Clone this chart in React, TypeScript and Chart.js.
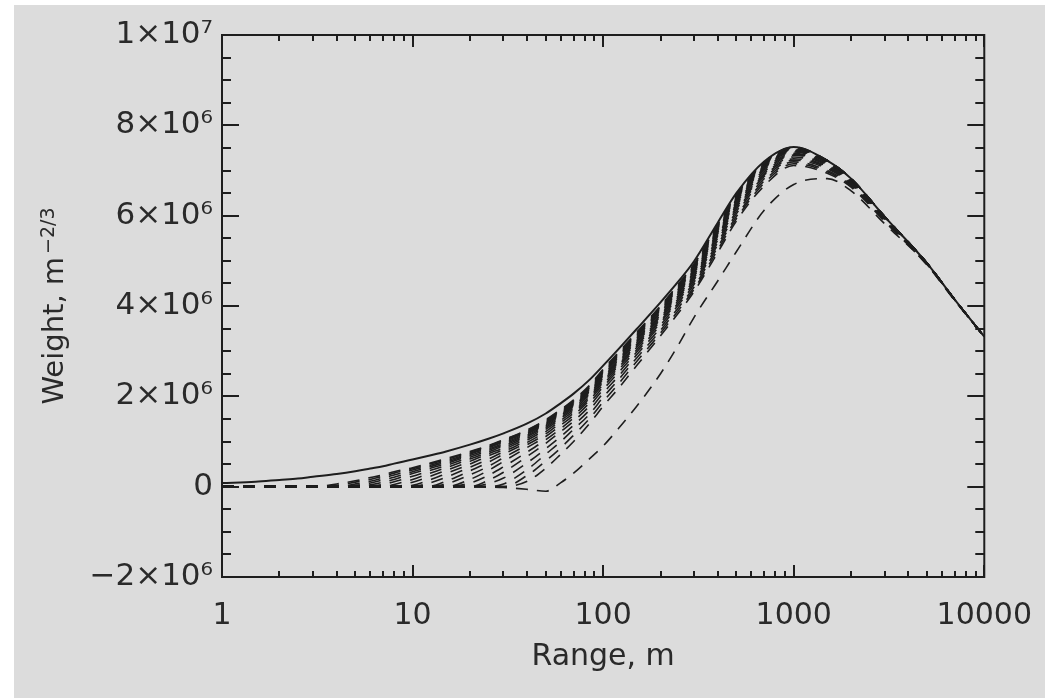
import React, { useEffect, useRef } from "react";
import { Chart, registerables } from "chart.js";

Chart.register(...registerables);

// Range grid (m)
const RANGE_M = [1, 1.5, 2, 2.5, 3, 4, 5, 6, 7, 8, 10, 12, 15, 20, 25, 30, 40, 50, 60, 70, 85, 100, 120, 150, 200, 250, 300, 400, 500, 700, 1000, 1500, 2000, 3000, 5000, 7000, 10000];

// Weights in units of 10^6 m^-2/3
const WEIGHT_FULL = [0.08, 0.11, 0.15, 0.18, 0.22, 0.28, 0.34, 0.40, 0.45, 0.51, 0.60, 0.68, 0.78, 0.93, 1.06, 1.18, 1.40, 1.62, 1.85, 2.06, 2.37, 2.68, 3.04, 3.49, 4.08, 4.56, 4.99, 5.85, 6.50, 7.20, 7.52, 7.22, 6.82, 5.98, 4.95, 4.14, 3.32];

const WEIGHT_CUT_3 = [0, 0, 0, 0, 0, 0.06, 0.13, 0.20, 0.26, 0.33, 0.42, 0.51, 0.62, 0.78, 0.91, 1.04, 1.26, 1.48, 1.71, 1.92, 2.25, 2.60, 2.97, 3.42, 4.00, 4.50, 4.93, 5.81, 6.46, 7.18, 7.52, 7.22, 6.82, 5.98, 4.95, 4.14, 3.32];
const WEIGHT_CUT_3_5 = [0, 0, 0, 0, 0, 0.03, 0.10, 0.16, 0.23, 0.30, 0.40, 0.49, 0.60, 0.76, 0.90, 1.03, 1.25, 1.47, 1.70, 1.90, 2.23, 2.58, 2.95, 3.40, 3.99, 4.49, 4.92, 5.80, 6.45, 7.17, 7.51, 7.22, 6.82, 5.98, 4.95, 4.14, 3.32];
const WEIGHT_CUT_4 = [0, 0, 0, 0, 0, 0, 0.06, 0.12, 0.19, 0.26, 0.37, 0.46, 0.57, 0.74, 0.88, 1.01, 1.23, 1.45, 1.68, 1.88, 2.21, 2.56, 2.93, 3.38, 3.97, 4.47, 4.90, 5.78, 6.44, 7.16, 7.50, 7.22, 6.82, 5.98, 4.95, 4.14, 3.32];
const WEIGHT_CUT_4_6 = [0, 0, 0, 0, 0, 0, 0.03, 0.08, 0.15, 0.21, 0.33, 0.43, 0.54, 0.72, 0.86, 0.99, 1.21, 1.43, 1.66, 1.86, 2.19, 2.54, 2.91, 3.36, 3.95, 4.45, 4.89, 5.76, 6.42, 7.15, 7.49, 7.22, 6.82, 5.98, 4.95, 4.14, 3.32];
const WEIGHT_CUT_5 = [0, 0, 0, 0, 0, 0, 0, 0.04, 0.10, 0.16, 0.29, 0.39, 0.51, 0.69, 0.83, 0.96, 1.19, 1.41, 1.64, 1.84, 2.17, 2.52, 2.89, 3.34, 3.93, 4.42, 4.87, 5.74, 6.40, 7.14, 7.48, 7.22, 6.82, 5.98, 4.95, 4.14, 3.32];
const WEIGHT_CUT_6 = [0, 0, 0, 0, 0, 0, 0, 0.02, 0.05, 0.11, 0.23, 0.34, 0.47, 0.65, 0.80, 0.93, 1.17, 1.39, 1.62, 1.82, 2.15, 2.50, 2.86, 3.31, 3.91, 4.40, 4.84, 5.72, 6.38, 7.12, 7.47, 7.21, 6.82, 5.98, 4.95, 4.14, 3.32];
const WEIGHT_CUT_7 = [0, 0, 0, 0, 0, 0, 0, 0, 0, 0.05, 0.16, 0.28, 0.42, 0.61, 0.77, 0.90, 1.14, 1.37, 1.60, 1.80, 2.12, 2.47, 2.83, 3.28, 3.88, 4.38, 4.81, 5.70, 6.36, 7.10, 7.46, 7.20, 6.82, 5.98, 4.95, 4.14, 3.32];
const WEIGHT_CUT_8 = [0, 0, 0, 0, 0, 0, 0, 0, 0, 0, 0.10, 0.21, 0.36, 0.56, 0.73, 0.86, 1.11, 1.34, 1.57, 1.78, 2.10, 2.44, 2.80, 3.25, 3.85, 4.35, 4.79, 5.67, 6.34, 7.08, 7.45, 7.19, 6.81, 5.98, 4.95, 4.14, 3.32];
const WEIGHT_CUT_9 = [0, 0, 0, 0, 0, 0, 0, 0, 0, 0, 0.03, 0.13, 0.29, 0.50, 0.68, 0.82, 1.07, 1.31, 1.54, 1.75, 2.07, 2.41, 2.77, 3.22, 3.81, 4.32, 4.76, 5.64, 6.31, 7.06, 7.43, 7.18, 6.80, 5.98, 4.95, 4.14, 3.32];
const WEIGHT_CUT_11 = [0, 0, 0, 0, 0, 0, 0, 0, 0, 0, 0, 0.07, 0.21, 0.43, 0.61, 0.77, 1.03, 1.27, 1.51, 1.71, 2.04, 2.38, 2.74, 3.19, 3.78, 4.29, 4.73, 5.61, 6.28, 7.04, 7.41, 7.17, 6.79, 5.98, 4.95, 4.14, 3.32];
const WEIGHT_CUT_12 = [0, 0, 0, 0, 0, 0, 0, 0, 0, 0, 0, 0, 0.12, 0.35, 0.54, 0.72, 0.98, 1.22, 1.47, 1.67, 2.00, 2.35, 2.70, 3.15, 3.75, 4.25, 4.69, 5.58, 6.25, 7.01, 7.38, 7.15, 6.78, 5.97, 4.95, 4.14, 3.32];
const WEIGHT_CUT_14 = [0, 0, 0, 0, 0, 0, 0, 0, 0, 0, 0, 0, 0.06, 0.26, 0.45, 0.64, 0.93, 1.17, 1.42, 1.63, 1.96, 2.31, 2.67, 3.12, 3.71, 4.22, 4.66, 5.55, 6.22, 6.97, 7.36, 7.13, 6.77, 5.96, 4.95, 4.14, 3.32];
const WEIGHT_CUT_16 = [0, 0, 0, 0, 0, 0, 0, 0, 0, 0, 0, 0, 0, 0.16, 0.36, 0.56, 0.87, 1.11, 1.36, 1.58, 1.92, 2.26, 2.63, 3.08, 3.67, 4.18, 4.62, 5.51, 6.18, 6.93, 7.34, 7.11, 6.75, 5.95, 4.95, 4.14, 3.32];
const WEIGHT_CUT_18 = [0, 0, 0, 0, 0, 0, 0, 0, 0, 0, 0, 0, 0, 0.08, 0.25, 0.44, 0.77, 1.04, 1.29, 1.52, 1.86, 2.21, 2.58, 3.03, 3.63, 4.14, 4.58, 5.46, 6.14, 6.90, 7.30, 7.09, 6.74, 5.94, 4.95, 4.14, 3.32];
const WEIGHT_CUT_21 = [0, 0, 0, 0, 0, 0, 0, 0, 0, 0, 0, 0, 0, 0, 0.14, 0.32, 0.67, 0.96, 1.22, 1.45, 1.79, 2.15, 2.52, 2.98, 3.58, 4.09, 4.53, 5.41, 6.09, 6.87, 7.26, 7.07, 6.72, 5.93, 4.94, 4.14, 3.32];
const WEIGHT_CUT_24 = [0, 0, 0, 0, 0, 0, 0, 0, 0, 0, 0, 0, 0, 0, 0.07, 0.19, 0.53, 0.84, 1.11, 1.36, 1.70, 2.07, 2.44, 2.92, 3.52, 4.04, 4.48, 5.36, 6.04, 6.82, 7.23, 7.04, 6.70, 5.92, 4.94, 4.14, 3.32];
const WEIGHT_CUT_28 = [0, 0, 0, 0, 0, 0, 0, 0, 0, 0, 0, 0, 0, 0, 0, 0.06, 0.38, 0.72, 1.00, 1.27, 1.61, 1.98, 2.36, 2.85, 3.46, 3.98, 4.42, 5.31, 5.98, 6.77, 7.19, 7.00, 6.68, 5.90, 4.93, 4.14, 3.32];
const WEIGHT_CUT_32 = [0, 0, 0, 0, 0, 0, 0, 0, 0, 0, 0, 0, 0, 0, 0, 0, 0.25, 0.57, 0.86, 1.14, 1.51, 1.88, 2.27, 2.77, 3.40, 3.92, 4.37, 5.25, 5.93, 6.72, 7.15, 6.97, 6.66, 5.89, 4.92, 4.13, 3.32];
const WEIGHT_CUT_36 = [0, 0, 0, 0, 0, 0, 0, 0, 0, 0, 0, 0, 0, 0, 0, 0, 0.12, 0.41, 0.72, 1.00, 1.40, 1.78, 2.17, 2.68, 3.34, 3.86, 4.32, 5.19, 5.88, 6.66, 7.11, 6.94, 6.63, 5.87, 4.91, 4.12, 3.32];
const WEIGHT_CUT_48 = [0, 0, 0, 0, 0, 0, 0, 0, 0, 0, 0, 0, 0, 0, -0.01, -0.02, -0.06, -0.10, 0.09, 0.30, 0.62, 0.90, 1.28, 1.78, 2.50, 3.16, 3.75, 4.56, 5.20, 6.12, 6.69, 6.82, 6.55, 5.82, 4.92, 4.14, 3.32];

const DASHED_SERIES = [
  WEIGHT_CUT_3, WEIGHT_CUT_3_5, WEIGHT_CUT_4, WEIGHT_CUT_4_6, WEIGHT_CUT_5, WEIGHT_CUT_6, WEIGHT_CUT_7,
  WEIGHT_CUT_8, WEIGHT_CUT_9, WEIGHT_CUT_11, WEIGHT_CUT_12, WEIGHT_CUT_14, WEIGHT_CUT_16, WEIGHT_CUT_18,
  WEIGHT_CUT_21, WEIGHT_CUT_24, WEIGHT_CUT_28, WEIGHT_CUT_32, WEIGHT_CUT_36, WEIGHT_CUT_48,
];

const X_TICK_VALUES = [1, 10, 100, 1000, 10000];
const X_TICK_LABELS = ["1", "10", "100", "1000", "10000"];
const Y_TICK_VALUES = [-2, 0, 2, 4, 6, 8, 10];
const Y_TICK_LABELS = ["\u22122\u00d710\u2076", "0", "2\u00d710\u2076", "4\u00d710\u2076", "6\u00d710\u2076", "8\u00d710\u2076", "1\u00d710\u2077"];
const X_TITLE = "Range, m";
const Y_TITLE = "Weight, m";
const Y_TITLE_SUP = "\u22122/3";

const FONT = '"DejaVu Sans", sans-serif';
const INK = "#1e1e1e";
const TEXT = "#2a2a2a";

const framePlugin = {
  id: "idlFrame",
  afterDatasetsDraw(chart: any) {
    const { ctx, chartArea: a, scales } = chart;
    const xs = scales.x;
    const ys = scales.y;
    ctx.save();
    ctx.strokeStyle = INK;
    ctx.lineWidth = 2;
    ctx.setLineDash([]);
    ctx.strokeRect(a.left, a.top, a.right - a.left, a.bottom - a.top);
    ctx.beginPath();
    for (let d = 1; d < 10000; d *= 10) {
      for (let m = 1; m <= 10; m++) {
        const px = Math.round(xs.getPixelForValue(d * m));
        const len = m === 1 || m === 10 ? 12 : 6;
        ctx.moveTo(px, a.bottom);
        ctx.lineTo(px, a.bottom - len);
        ctx.moveTo(px, a.top);
        ctx.lineTo(px, a.top + len);
      }
    }
    for (let v = -2; v <= 10.001; v += 0.5) {
      const py = Math.round(ys.getPixelForValue(v));
      const major = Math.abs(v % 2) < 1e-6;
      const len = major ? 17 : 9;
      ctx.moveTo(a.left, py);
      ctx.lineTo(a.left + len, py);
      ctx.moveTo(a.right, py);
      ctx.lineTo(a.right - len, py);
    }
    ctx.stroke();
    ctx.restore();
  },
  afterDraw(chart: any) {
    const { ctx, chartArea: a } = chart;
    ctx.save();
    const cy = (a.top + a.bottom) / 2;
    ctx.translate(49, cy);
    ctx.rotate(-Math.PI / 2);
    ctx.fillStyle = TEXT;
    ctx.textAlign = "left";
    ctx.textBaseline = "alphabetic";
    ctx.font = `29px ${FONT}`;
    const w1 = ctx.measureText(Y_TITLE).width;
    ctx.font = `19px ${FONT}`;
    const w2 = ctx.measureText(Y_TITLE_SUP).width;
    const start = -(w1 + 3 + w2) / 2;
    ctx.font = `29px ${FONT}`;
    ctx.fillText(Y_TITLE, start, 0);
    ctx.font = `19px ${FONT}`;
    ctx.fillText(Y_TITLE_SUP, start + w1 + 3, -9);
    ctx.restore();
  },
};

export default function App() {
  const ref = useRef<HTMLCanvasElement>(null);
  useEffect(() => {
    document.body.style.margin = "0";
    const datasets: any[] = DASHED_SERIES.map((vals) => ({
      data: RANGE_M.map((r, i) => ({ x: r, y: vals[i] })),
      borderColor: INK,
      borderWidth: 1.6,
      borderDash: [12, 9],
      pointRadius: 0,
      fill: false,
      cubicInterpolationMode: "monotone",
    }));
    datasets.push({
      data: RANGE_M.map((r, i) => ({ x: r, y: WEIGHT_FULL[i] })),
      borderColor: INK,
      borderWidth: 2,
      pointRadius: 0,
      fill: false,
      cubicInterpolationMode: "monotone",
    });
    const chart = new Chart(ref.current as HTMLCanvasElement, {
      type: "line",
      data: { datasets },
      plugins: [framePlugin],
      options: {
        animation: false,
        responsive: false,
        maintainAspectRatio: false,
        devicePixelRatio: 1,
        layout: { padding: { top: 30, right: 52, left: 0, bottom: 0 } },
        plugins: { legend: { display: false }, tooltip: { enabled: false } },
        scales: {
          x: {
            type: "logarithmic",
            position: "bottom",
            min: 1,
            max: 10000,
            grid: { display: false },
            border: { display: false },
            afterBuildTicks: (s: any) => {
              s.ticks = X_TICK_VALUES.map((v) => ({ value: v }));
            },
            afterFit: (s: any) => {
              s.height = 121;
            },
            ticks: {
              autoSkip: false,
              maxRotation: 0,
              padding: 13,
              color: TEXT,
              font: { family: FONT, size: 30 },
              callback: (v: any) => {
                const i = X_TICK_VALUES.indexOf(Number(v));
                return i >= 0 ? X_TICK_LABELS[i] : "";
              },
            },
            title: {
              display: true,
              text: X_TITLE,
              color: TEXT,
              font: { family: FONT, size: 30 },
              padding: { top: 0, bottom: 23 },
            },
          },
          y: {
            type: "linear",
            min: -2,
            max: 10,
            grid: { display: false },
            border: { display: false },
            afterBuildTicks: (s: any) => {
              s.ticks = Y_TICK_VALUES.map((v) => ({ value: v }));
            },
            afterFit: (s: any) => {
              s.width = 208;
            },
            ticks: {
              padding: 1,
              color: TEXT,
              font: { family: FONT, size: 31 },
              callback: (v: any) => {
                const i = Y_TICK_VALUES.indexOf(Number(v));
                return i >= 0 ? Y_TICK_LABELS[i] : "";
              },
            },
          },
        },
      } as any,
    });
    return () => chart.destroy();
  }, []);
  return (
    <div style={{ position: "relative", width: 1045, height: 698, background: "#ffffff" }}>
      <div style={{ position: "absolute", left: 14, top: 5, width: 1031, height: 693, background: "#dcdcdc" }}>
        <canvas ref={ref} width={1031} height={693} style={{ display: "block", width: 1031, height: 693 }} />
      </div>
    </div>
  );
}
